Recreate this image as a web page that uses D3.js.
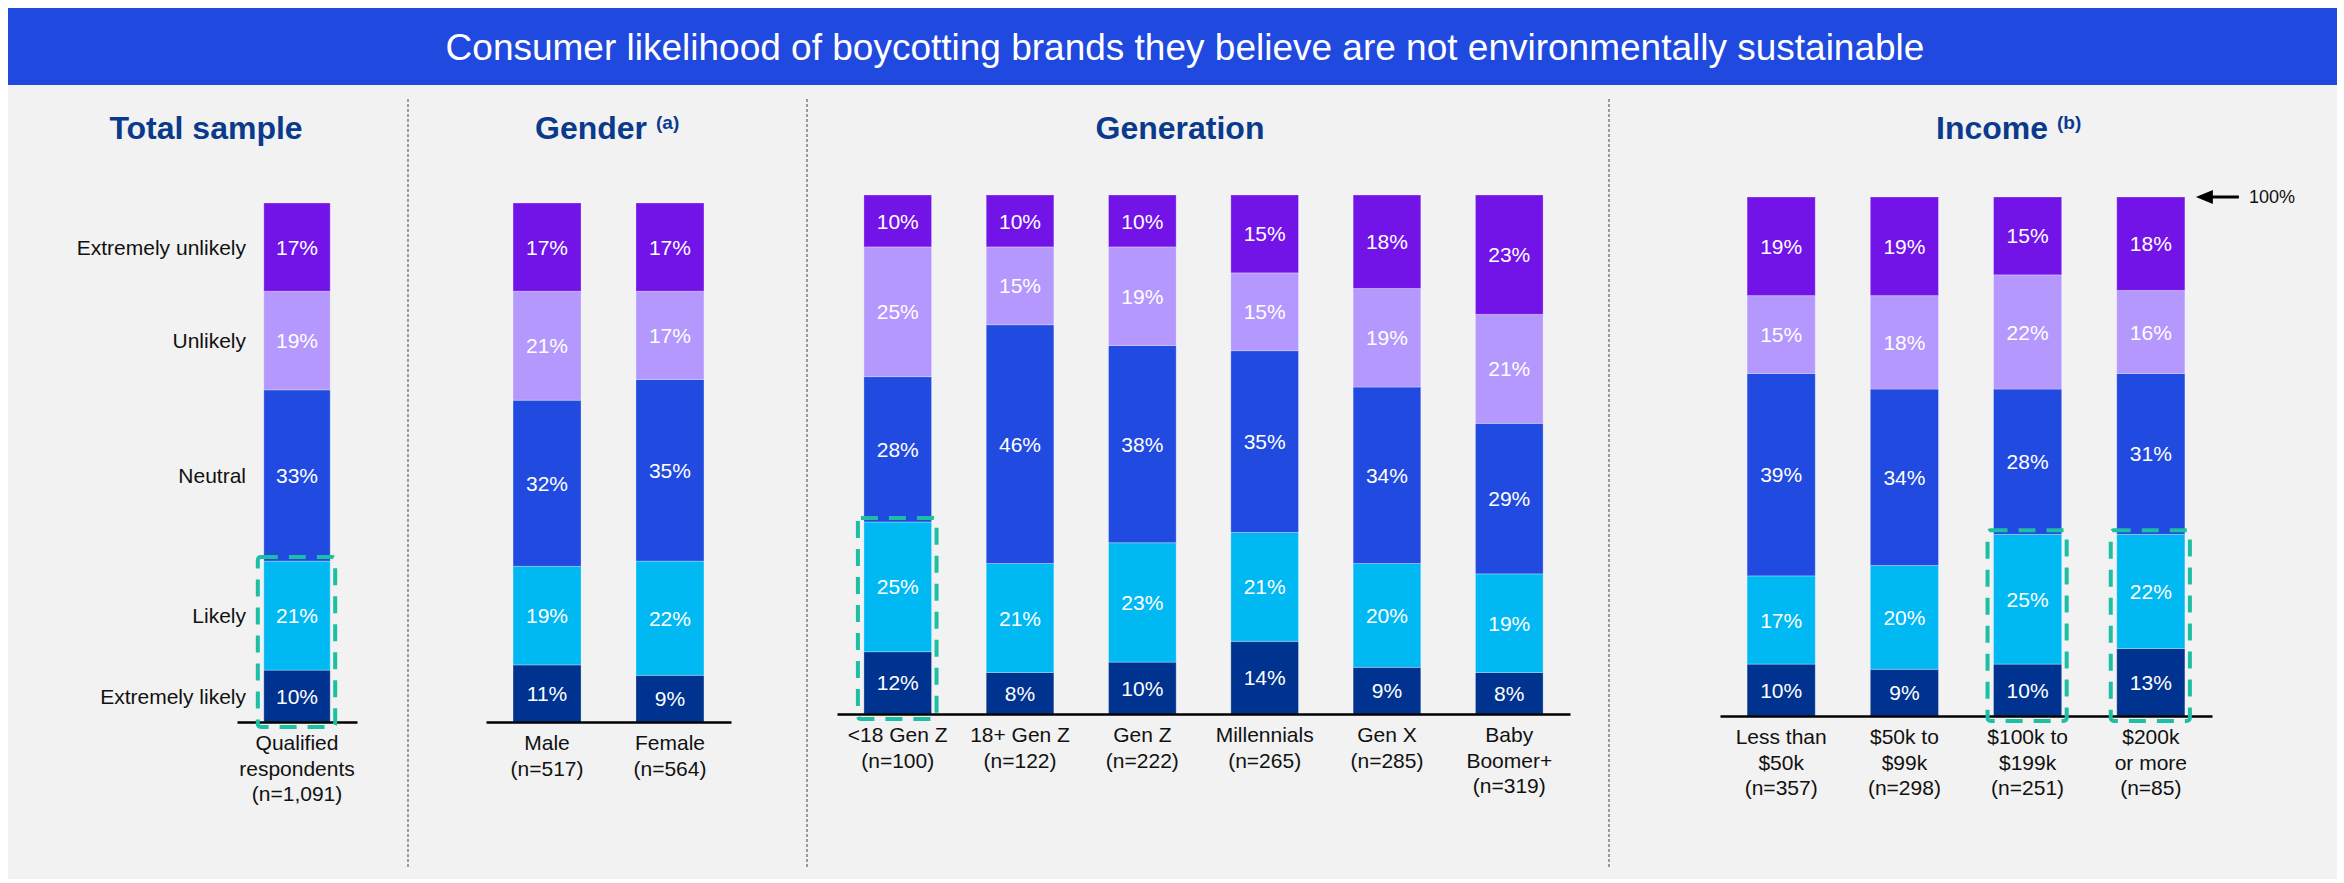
<!DOCTYPE html>
<html>
<head>
<meta charset="utf-8">
<script src="https://cdn.jsdelivr.net/npm/d3@7"></script>
<style>
  html, body { margin: 0; padding: 0; background: #ffffff; }
  svg { display: block; font-family: "Liberation Sans", Arial, Helvetica, sans-serif; }
</style>
</head>
<body>
<script>
// Response levels, stacked bottom to top
const levels = ["Extremely likely", "Likely", "Neutral", "Unlikely", "Extremely unlikely"];

// Total sample
const totalGroups = ["Qualified respondents"];
const totalLabels = [["Qualified", "respondents", "(n=1,091)"]];
const totalValues = [[10, 21, 33, 19, 17]];

// Gender
const genderGroups = ["Male", "Female"];
const genderLabels = [["Male", "(n=517)"], ["Female", "(n=564)"]];
const genderValues = [[11, 19, 32, 21, 17], [9, 22, 35, 17, 17]];

// Generation
const generationGroups = ["<18 Gen Z", "18+ Gen Z", "Gen Z", "Millennials", "Gen X", "Baby Boomer+"];
const generationLabels = [["<18 Gen Z", "(n=100)"], ["18+ Gen Z", "(n=122)"], ["Gen Z", "(n=222)"],
                          ["Millennials", "(n=265)"], ["Gen X", "(n=285)"], ["Baby", "Boomer+", "(n=319)"]];
const generationValues = [[12, 25, 28, 25, 10], [8, 21, 46, 15, 10], [10, 23, 38, 19, 10],
                          [14, 21, 35, 15, 15], [9, 20, 34, 19, 18], [8, 19, 29, 21, 23]];

// Income
const incomeGroups = ["Less than $50k", "$50k to $99k", "$100k to $199k", "$200k or more"];
const incomeLabels = [["Less than", "$50k", "(n=357)"], ["$50k to", "$99k", "(n=298)"],
                      ["$100k to", "$199k", "(n=251)"], ["$200k", "or more", "(n=85)"]];
const incomeValues = [[10, 17, 39, 15, 19], [9, 20, 34, 18, 19], [10, 25, 28, 22, 15], [13, 22, 31, 16, 18]];

const levelColors = ["#00338f", "#00b9f3", "#204ae0", "#b498fe", "#7213e8"];
const navy = "#0a3a8c";
const teal = "#1dbfa2";

const W = 2344, H = 883;
const svg = d3.select("body").append("svg").attr("width", W).attr("height", H);

// Header band and grey panel
svg.append("rect").attr("x", 8).attr("y", 85).attr("width", 2329).attr("height", 794).attr("fill", "#f2f2f2");
svg.append("rect").attr("x", 8).attr("y", 8).attr("width", 2329).attr("height", 77).attr("fill", "#2049e0");
svg.append("text")
  .attr("x", 1185).attr("y", 60)
  .attr("text-anchor", "middle")
  .attr("fill", "#ffffff")
  .attr("font-size", 37)
  .text("Consumer likelihood of boycotting brands they believe are not environmentally sustainable");

// Dotted dividers between panels
[408, 807, 1609].forEach(xd => {
  svg.append("line")
    .attr("x1", xd).attr("x2", xd).attr("y1", 99).attr("y2", 868)
    .attr("stroke", "#7f7f7f").attr("stroke-width", 1.5).attr("stroke-dasharray", "3,2");
});

const panels = [
  { title: "Total sample", sup: null, titleX: 206, anchor: "middle",
    groups: totalGroups, labels: totalLabels, values: totalValues,
    range: [237, 357], base: 722, top: 203, highlight: [0], rowLabels: true },
  { title: "Gender", sup: "(a)", titleX: 535, anchor: "start",
    groups: genderGroups, labels: genderLabels, values: genderValues,
    range: [486, 731], base: 722, top: 203, highlight: [] },
  { title: "Generation", sup: null, titleX: 1180, anchor: "middle",
    groups: generationGroups, labels: generationLabels, values: generationValues,
    range: [837, 1570], base: 714, top: 195, highlight: [0] },
  { title: "Income", sup: "(b)", titleX: 1936, anchor: "start",
    groups: incomeGroups, labels: incomeLabels, values: incomeValues,
    range: [1720, 2212], base: 716, top: 197, highlight: [2, 3], marker: true }
];

panels.forEach(p => {
  const g = svg.append("g");

  // Section heading
  const t = g.append("text")
    .attr("x", p.titleX).attr("y", 139)
    .attr("text-anchor", p.anchor)
    .attr("fill", navy)
    .attr("font-size", 32)
    .attr("font-weight", "bold")
    .text(p.title);
  if (p.sup) {
    t.append("tspan").attr("font-size", 19).attr("dx", 9).attr("dy", -10).text(p.sup);
  }

  const x = d3.scaleBand().domain(p.groups).range(p.range).paddingInner(0.447).paddingOuter(0.22);
  const y = d3.scaleLinear().domain([0, 100]).range([p.base, p.top]);

  const rows = p.groups.map((grp, i) => {
    const r = { group: grp };
    levels.forEach((lv, j) => { r[lv] = p.values[i][j]; });
    return r;
  });
  const series = d3.stack().keys(levels)(rows);

  const layer = g.selectAll("g.layer").data(series).join("g")
    .attr("class", "layer")
    .attr("fill", (d, i) => levelColors[i]);

  layer.selectAll("rect").data(d => d).join("rect")
    .attr("x", d => x(d.data.group))
    .attr("y", d => y(d[1]))
    .attr("width", x.bandwidth())
    .attr("height", d => y(d[0]) - y(d[1]))
    .attr("stroke", "rgba(255,255,255,0.28)")
    .attr("stroke-width", 1);

  layer.selectAll("text").data(d => d).join("text")
    .attr("x", d => x(d.data.group) + x.bandwidth() / 2)
    .attr("y", d => (y(d[0]) + y(d[1])) / 2)
    .attr("dy", "0.36em")
    .attr("text-anchor", "middle")
    .attr("fill", "#ffffff")
    .attr("font-size", 21)
    .text(d => (d[1] - d[0]) + "%");

  // Baseline axis with multi-line category labels
  const axis = g.append("g")
    .attr("transform", `translate(0,${p.base})`)
    .call(d3.axisBottom(x).tickSize(0).tickSizeOuter(0));
  axis.select(".domain").attr("stroke", "#000").attr("stroke-width", 2.5);
  axis.selectAll(".tick text").remove();
  axis.selectAll(".tick").each(function (grp) {
    const idx = p.groups.indexOf(grp);
    const txt = d3.select(this).append("text")
      .attr("y", 28)
      .attr("text-anchor", "middle")
      .attr("fill", "#111")
      .attr("font-size", 21);
    p.labels[idx].forEach((line, k) => {
      txt.append("tspan").attr("x", 0).attr("dy", k === 0 ? 0 : 25.5).text(line);
    });
  });

  // Dashed boxes around the likely share
  p.highlight.forEach(i => {
    const grp = p.groups[i];
    const likelyTop = y(p.values[i][0] + p.values[i][1]);
    g.append("rect")
      .attr("x", x(grp) - 6)
      .attr("y", likelyTop - 4)
      .attr("width", x.bandwidth() + 11)
      .attr("height", p.base + 5 - (likelyTop - 4))
      .attr("rx", 3)
      .attr("fill", "none")
      .attr("stroke", teal)
      .attr("stroke-width", 4)
      .attr("stroke-dasharray", "17,11");
  });

  // Response level names beside the total bar
  if (p.rowLabels) {
    const s0 = series.map(s => s[0]);
    g.selectAll("text.row").data(s0).join("text")
      .attr("class", "row")
      .attr("x", 246)
      .attr("y", d => (y(d[0]) + y(d[1])) / 2)
      .attr("dy", "0.36em")
      .attr("text-anchor", "end")
      .attr("fill", "#111")
      .attr("font-size", 21)
      .text((d, i) => levels[i]);
  }

  // 100% marker
  if (p.marker) {
    const ym = y(100);
    const xr = x(p.groups[p.groups.length - 1]) + x.bandwidth();
    g.append("line")
      .attr("x1", xr + 24).attr("x2", xr + 54).attr("y1", ym).attr("y2", ym)
      .attr("stroke", "#000").attr("stroke-width", 3);
    g.append("path")
      .attr("d", `M${xr + 11},${ym} L${xr + 28},${ym - 7} L${xr + 28},${ym + 7} Z`)
      .attr("fill", "#000");
    g.append("text")
      .attr("x", xr + 64).attr("y", ym).attr("dy", "0.36em")
      .attr("fill", "#111").attr("font-size", 18)
      .text("100%");
  }
});
</script>
</body>
</html>
